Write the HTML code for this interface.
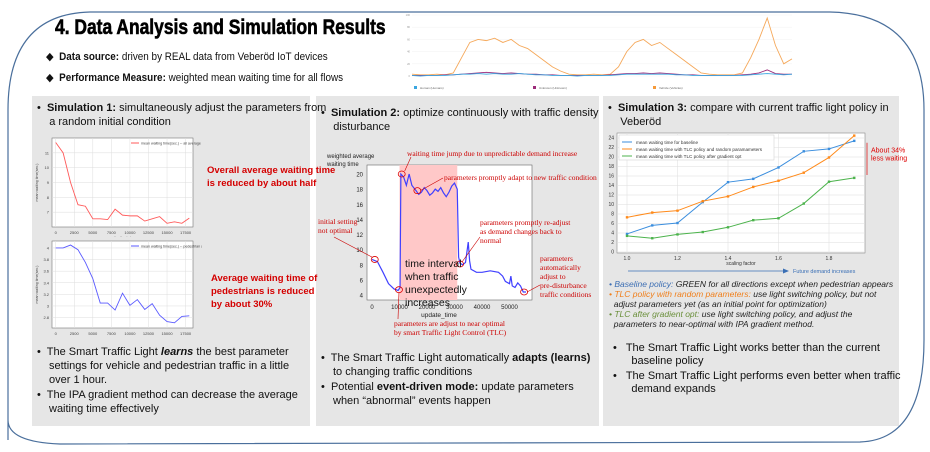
<!DOCTYPE html>
<html><head><meta charset="utf-8">
<style>
body{margin:0;width:930px;height:452px;background:#fff;font-family:"Liberation Sans",sans-serif;overflow:hidden;position:relative}
.a{position:absolute;white-space:nowrap}
.panel{position:absolute;background:#e6e6e6}
.t12{font-size:11px;color:#111;line-height:14px}
.red{color:#d40000;font-weight:bold;font-size:10px;line-height:13px}
</style></head><body>
<svg class="a" style="left:0;top:0" width="930" height="452">
<path d="M8,440 L8,110 Q8,14 90,12 L830,12 Q924,14 924,110 L924,340 Q924,440 860,442 L60,444 Q8,442 8,420 Z" fill="none" stroke="#4a6f9c" stroke-width="1.2"/>
</svg>
<div class="panel" style="left:32px;top:96px;width:278px;height:330px"></div>
<div class="panel" style="left:316px;top:96px;width:283px;height:330px"></div>
<div class="panel" style="left:603px;top:96px;width:296px;height:330px"></div>

<div class="a" style="left:55px;top:16px;font-size:21px;font-weight:bold;-webkit-text-stroke:0.6px #000;transform:scaleX(0.83);transform-origin:left">4. Data Analysis and Simulation Results</div>
<div class="a t12" style="left:46px;top:50px;font-size:11px;transform:scaleX(0.9);transform-origin:left">◆&nbsp; <b>Data source:</b> driven by REAL data from Veberöd IoT devices</div>
<div class="a t12" style="left:46px;top:71px;font-size:11px;transform:scaleX(0.9);transform-origin:left">◆&nbsp; <b>Performance Measure:</b> weighted mean waiting time for all flows</div>

<svg id="top" class="a" style="left:400px;top:12px" width="400" height="85"></svg>

<div class="a t12" style="left:37px;top:101px">•&nbsp; <b>Simulation 1:</b> simultaneously adjust the parameters from<br>&nbsp;&nbsp;&nbsp; a random initial condition</div>
<svg id="c1" class="a" style="left:32px;top:132px" width="170" height="105"></svg>
<svg id="c2" class="a" style="left:32px;top:236px" width="170" height="100"></svg>
<div class="a red" style="left:207px;top:164px;font-size:9.5px">Overall average waiting time<br>is reduced by about half</div>
<div class="a red" style="left:211px;top:272px;font-size:9.5px">Average waiting time of<br>pedestrians is reduced<br>by about 30%</div>
<div class="a t12" style="left:37px;top:345px;white-space:normal;width:270px">
<div style="padding-left:12px;text-indent:-12px">•&nbsp; The Smart Traffic Light <b><i>learns</i></b> the best parameter settings for vehicle and pedestrian traffic in a little over 1 hour.</div>
<div style="padding-left:12px;text-indent:-12px;margin-top:1px">•&nbsp; The IPA gradient method can decrease the average waiting time effectively</div></div>

<div class="a t12" style="left:321px;top:106px">•&nbsp; <b>Simulation 2:</b> optimize continuously with traffic density<br>&nbsp;&nbsp;&nbsp; disturbance</div>
<svg id="c3" class="a" style="left:316px;top:145px" width="283" height="200"></svg>
<div class="a t12" style="left:321px;top:351px;white-space:normal;width:276px">
<div style="padding-left:12px;text-indent:-12px">•&nbsp; The Smart Traffic Light automatically <b>adapts (learns)</b> to changing traffic conditions</div>
<div style="padding-left:12px;text-indent:-12px;margin-top:1px">•&nbsp; Potential <b>event-driven mode:</b> update parameters when “abnormal” events happen</div></div>

<div class="a t12" style="left:608px;top:101px">•&nbsp; <b>Simulation 3:</b> compare with current traffic light policy in<br>&nbsp;&nbsp;&nbsp; Veberöd</div>
<svg id="c4" class="a" style="left:603px;top:128px" width="322" height="150"></svg>
<div class="a" style="left:609px;top:279px;font-size:8.5px;line-height:10px;font-style:italic;color:#222">
<div><span style="color:#3d6fb4">• Baseline policy:</span> GREEN for all directions except when pedestrian appears</div>
<div><span style="color:#f07f1b">• TLC policy with random parameters:</span> use light switching policy, but not</div>
<div>&nbsp;&nbsp;adjust parameters yet (as an initial point for optimization)</div>
<div><span style="color:#6a8f3a">• TLC after gradient opt:</span> use light switching policy, and adjust the</div>
<div>&nbsp;&nbsp;parameters to near-optimal with IPA gradient method.</div></div>
<div class="a t12" style="left:613px;top:342px;line-height:13px">
<div>•&nbsp;&nbsp; The Smart Traffic Light works better than the current<br>&nbsp;&nbsp;&nbsp;&nbsp;&nbsp; baseline policy</div>
<div style="margin-top:2px">•&nbsp;&nbsp; The Smart Traffic Light performs even better when traffic<br>&nbsp;&nbsp;&nbsp;&nbsp;&nbsp; demand expands</div></div>

<script>
const NS="http://www.w3.org/2000/svg";
function mk(p,t,a){const e=document.createElementNS(NS,t);for(const k in a)e.setAttribute(k,a[k]);p.appendChild(e);return e;}
function txt(p,x,y,s,a){const e=mk(p,'text',Object.assign({x:x,y:y},a));e.textContent=s;return e;}

// ---- Sim 1 data ----
const sim1Steps=[0,1000,2000,3000,4000,5000,6000,7000,8000,9000,10000,11000,12000,13000,14000,15000,16000,17000,18000];
const sim1All=[11.7,11.0,9.0,7.5,7.4,6.55,6.55,6.5,7.2,6.8,6.75,6.75,6.4,6.55,6.7,6.25,6.35,6.25,6.6];
const sim1Ped=[4.0,4.0,4.05,3.97,3.75,3.47,3.05,3.05,2.93,3.22,3.01,3.11,2.94,3.04,2.84,2.73,2.71,2.82,2.83];
const sim1XTicks=[0,2500,5000,7500,10000,12500,15000,17500];
const sim1AllTicks=[7,8,9,10,11];
const sim1PedTicks=[2.8,3.0,3.2,3.4,3.6,3.8,4.0];

function smallChart(svg,name,xs,ys,yt,ymin,ymax,color,legend,box){
  const L=box.l,R=box.r,T=box.t,B=box.b;
  const X=v=>L+(v+500)/(19000)*(R-L), Y=v=>B-(v-ymin)/(ymax-ymin)*(B-T);
  mk(svg,'rect',{x:L,y:T,width:R-L,height:B-T,fill:'#fff',stroke:'#777','stroke-width':0.6});
  sim1XTicks.forEach(t=>{mk(svg,'line',{x1:X(t),x2:X(t),y1:T,y2:B,stroke:'#ddd','stroke-width':0.5});txt(svg,X(t),B+7,t,{'font-size':4,'text-anchor':'middle',fill:'#444'});});
  yt.forEach(t=>{mk(svg,'line',{x1:L,x2:R,y1:Y(t),y2:Y(t),stroke:'#ddd','stroke-width':0.5});txt(svg,L-3,Y(t)+1.5,t.toFixed(t%1?1:0),{'font-size':4,'text-anchor':'end',fill:'#444'});});
  const p=mk(svg,'polyline',{points:xs.map((x,i)=>X(x)+','+Y(ys[i])).join(' '),fill:'none',stroke:color,'stroke-width':0.9});
  
  
  mk(svg,'line',{x1:R-62,x2:R-54,y1:T+5,y2:T+5,stroke:color,'stroke-width':1});
  txt(svg,R-52,T+6.5,legend,{'font-size':3.6,fill:'#444'});
  txt(svg,(L+R)/2,B+12,'timeline(s.)',{'font-size':3.6,'text-anchor':'middle',fill:'#444'});
  txt(svg,L-14,(T+B)/2,'mean waiting time(sec.)',{'font-size':3.6,'text-anchor':'middle',fill:'#444',transform:`rotate(-90 ${L-14} ${(T+B)/2})`});
}
smallChart(document.getElementById('c1'),'all-average',sim1Steps,sim1All,sim1AllTicks,6.0,12.0,'#ff5a5a','mean waiting time(sec.) -- all average',{l:20,r:161,t:6,b:95});
smallChart(document.getElementById('c2'),'pedestrian',sim1Steps,sim1Ped,sim1PedTicks,2.62,4.12,'#5a5aff','mean waiting time(sec.) -- pedestrian average',{l:20,r:161,t:5,b:92});

// ---- Sim 2 data ----
const sim2Time=[0,2000,4000,6000,8000,9500,10200,10500,11500,12500,13500,14500,16000,17000,18000,19000,20000,21000,22000,23000,24000,25000,26000,27000,28000,29000,30000,31000,31500,32000,33000,34000,35000,35500,36000,38000,40000,43000,46000,47500,48500,50000,50500,51000,52000,53000,54000,55000,56000];
const sim2Wait=[8.7,8.4,7.0,5.5,4.8,4.6,5.0,20.0,19.6,18.5,20.0,18.5,17.8,17.3,17.6,18.2,17.8,17.2,17.5,18.0,17.7,18.2,17.5,17.0,17.6,18.4,18.8,18.0,9.0,8.2,8.0,8.3,11.0,8.5,7.4,7.0,7.0,7.2,7.0,6.5,5.8,5.5,6.5,5.2,5.0,5.6,5.2,4.4,4.4];
const sim2XTicks=[0,10000,20000,30000,40000,50000];
const sim2YTicks=[4,6,8,10,12,14,16,18,20];
const sim2Band=[10000,31000];
(function(){
  const s=document.getElementById('c3'); const L=51,R=216,T=20,B=155;
  const X=v=>L+5+(v)/50000*(137.5), Y=v=>B-5-(v-4)/16*(121);
  mk(s,'rect',{x:L,y:T,width:R-L,height:B-T,fill:'#fff',stroke:'#666','stroke-width':0.6});
  const b=mk(s,'rect',{x:X(sim2Band[0]),y:T,width:X(sim2Band[1])-X(sim2Band[0]),height:B-T,fill:'#ffc8c8'});
  
  
  sim2XTicks.forEach(t=>txt(s,X(t),B+9,t,{'font-size':6,'text-anchor':'middle',fill:'#222'}));
  sim2YTicks.forEach(t=>txt(s,L-4,Y(t)+2.5,t,{'font-size':6,'text-anchor':'end',fill:'#222'}));
  const p=mk(s,'polyline',{points:sim2Time.map((x,i)=>X(x)+','+Y(sim2Wait[i])).join(' '),fill:'none',stroke:'#4040ff','stroke-width':1.2});
  
  
  txt(s,11,13,'weighted average',{'font-size':6,fill:'#222'});txt(s,11,21,'waiting time',{'font-size':6,fill:'#222'});
  txt(s,123,172,'update_time',{'font-size':6.5,'text-anchor':'middle',fill:'#222'});
  const circ=[[1000,8.7],[9800,4.7],[10800,20],[16500,17.8],[32000,8.1],[55300,4.4]];
  circ.forEach(c=>mk(s,'ellipse',{cx:X(c[0]),cy:Y(c[1]),rx:3.5,ry:3,fill:'none',stroke:'#d00','stroke-width':0.8}));
  const red={fill:'#c00','font-size':7.5,'font-family':'Liberation Serif,serif'};
  txt(s,91,11,'waiting time jump due to unpredictable demand increase',red);
  txt(s,128,35,'parameters promptly adapt to new traffic condition',red);
  txt(s,2,79,'initial setting',red);txt(s,2,88,'not optimal',red);
  txt(s,164,80,'parameters promptly re-adjust',red);txt(s,164,89,'as demand changes back to',red);txt(s,164,98,'normal',red);
  ['parameters','automatically','adjust to','pre-disturbance','traffic conditions'].forEach((w,i)=>txt(s,224,116+i*9,w,red));
  ['time interval','when traffic','unexpectedly','increases'].forEach((w,i)=>txt(s,89,122+i*13,w,{fill:'#111','font-size':10.5}));
  txt(s,78,181,'parameters are adjust to near optimal',red);txt(s,78,190,'by smart Traffic Light Control (TLC)',red);
  const ln={stroke:'#c00','stroke-width':0.6};
  mk(s,'line',Object.assign({x1:X(10800)+3,y1:Y(20)-3,x2:95,y2:12},ln));
  mk(s,'line',Object.assign({x1:X(16500)+3,y1:Y(17.8),x2:127,y2:33},ln));
  mk(s,'line',Object.assign({x1:X(1000)-2,y1:Y(8.7)-2,x2:18,y2:92},ln));
  mk(s,'line',Object.assign({x1:X(32000)+2,y1:Y(8.1)-2,x2:164,y2:92},ln));
  mk(s,'line',Object.assign({x1:X(55300)+3,y1:Y(4.4),x2:224,y2:140},ln));
  mk(s,'line',Object.assign({x1:X(9800),y1:Y(4.7)+3,x2:82,y2:174},ln));
})();

// ---- Sim 3 data ----
const sim3Scale=[1.0,1.1,1.2,1.3,1.4,1.5,1.6,1.7,1.8,1.9];
const sim3Baseline=[3.8,5.6,6.1,10.5,14.7,15.4,17.8,21.2,21.7,23.4];
const sim3Random=[7.3,8.3,8.7,10.7,11.7,13.7,15.0,16.7,19.9,24.5];
const sim3Gradient=[3.4,2.9,3.7,4.2,5.2,6.7,7.1,10.2,14.8,15.6];
const sim3XTicks=[1.0,1.2,1.4,1.6,1.8];
const sim3YTicks=[0,2,4,6,8,10,12,14,16,18,20,22,24];
(function(){
  const s=document.getElementById('c4');const L=14,R=262,T=5,B=125;
  const X=v=>24+(v-1.0)/0.8*(202), Y=v=>B-1-v/24*(114);
  mk(s,'rect',{x:L,y:T,width:R-L,height:B-T,fill:'#fff',stroke:'#888','stroke-width':0.6});
  sim3XTicks.forEach(t=>{mk(s,'line',{x1:X(t),x2:X(t),y1:T,y2:B,stroke:'#ddd','stroke-width':0.5});txt(s,X(t),B+7,t.toFixed(1),{'font-size':5,'text-anchor':'middle',fill:'#333'});});
  sim3YTicks.forEach(t=>{mk(s,'line',{x1:L,x2:R,y1:Y(t),y2:Y(t),stroke:'#ddd','stroke-width':0.5});txt(s,L-3,Y(t)+1.7,t,{'font-size':5,'text-anchor':'end',fill:'#333'});});
  [[sim3Baseline,'#3b8ede','baseline'],[sim3Random,'#ff8a1a','random-params'],[sim3Gradient,'#4cb34c','gradient-opt']].forEach(d=>{
    const p=mk(s,'polyline',{points:sim3Scale.map((x,i)=>X(x)+','+Y(d[0][i])).join(' '),fill:'none',stroke:d[1],'stroke-width':1});
    
    
    sim3Scale.forEach((x,i)=>mk(s,'rect',{x:X(x)-1.2,y:Y(d[0][i])-1.2,width:2.4,height:2.4,fill:d[1]}));
  });
  mk(s,'rect',{x:L+2,y:T+2,width:155,height:25,fill:'#fff',stroke:'#ccc','stroke-width':0.5});
  [['mean waiting time for baseline','#3b8ede'],['mean waiting time with TLC policy and random paramameters','#ff8a1a'],['mean waiting time with TLC policy after gradient opt','#4cb34c']].forEach((l,i)=>{
    mk(s,'line',{x1:L+5,x2:L+15,y1:T+9+i*7,y2:T+9+i*7,stroke:l[1],'stroke-width':1});
    txt(s,L+19,T+11+i*7,l[0],{'font-size':4.6,fill:'#333'});
  });
  txt(s,138,B+12,'scaling factor',{'font-size':5,'text-anchor':'middle',fill:'#333'});
  mk(s,'line',{x1:25,x2:183,y1:143,y2:143,stroke:'#3a6fb5','stroke-width':0.8});
  mk(s,'path',{d:'M186,143 L180,140.5 L180,145.5 Z',fill:'#3a6fb5'});
  txt(s,190,145,'Future demand increases',{'font-size':5.5,fill:'#3a6fb5'});
  mk(s,'line',{x1:262+2,x2:262+2,y1:Y(23),y2:Y(16.2),stroke:'#d00','stroke-width':0.7});
  txt(s,268,Y(21),'About 34%',{'font-size':7,fill:'#d00'});txt(s,268,Y(19.3),'less waiting',{'font-size':7,fill:'#d00'});
})();

// ---- Top IoT chart ----
const iotVehicle=[3,2,2,3,2,5,30,55,60,58,62,55,60,50,45,35,25,15,8,3,2,2,3,2,3,15,40,55,60,50,55,45,35,25,15,5,3,2,2,2,5,30,60,95,50,20,28];
const iotUnknown=[1,1,1,1,2,2,3,4,5,6,5,4,5,4,3,3,2,2,1,1,1,1,1,1,2,3,4,4,5,4,5,4,3,2,2,1,1,1,1,1,2,3,5,10,4,3,3];
const iotHuman=[1,0,1,1,1,2,3,3,4,3,4,3,3,4,3,2,2,1,1,1,0,1,1,1,1,2,3,3,3,3,3,3,2,2,1,1,1,1,1,1,1,2,3,4,3,2,3];
const iotYTicks=[0,20,40,60,80,100];
(function(){
  const s=document.getElementById('top');const L=12,R=392,T=3,B=64;
  const X=i=>L+i/(iotVehicle.length-1)*(R-L), Y=v=>B-v/100*(B-T);
  iotYTicks.forEach(t=>{mk(s,'line',{x1:L,x2:R,y1:Y(t),y2:Y(t),stroke:'#eee','stroke-width':0.4});txt(s,L-2,Y(t)+1,t,{'font-size':2.6,'text-anchor':'end',fill:'#999'});});
  [[iotVehicle,'#f5a85a','vehicle'],[iotUnknown,'#9c2b7a','unknown'],[iotHuman,'#3aa6e0','human']].forEach(d=>{
    const p=mk(s,'polyline',{points:d[0].map((v,i)=>X(i)+','+Y(v)).join(' '),fill:'none',stroke:d[1],'stroke-width':0.9});
    
    
  });
  [['Human (Humans)','#3aa6e0',14],['Unknown (Unknown)','#9c2b7a',133],['Vehicle (Vehicles)','#f59a3a',253]].forEach(l=>{
    mk(s,'rect',{x:l[2],y:74,width:3,height:3,fill:l[1]});
    txt(s,l[2]+6,77,l[0],{'font-size':3,fill:'#666'});
  });
})();
</script>
</body></html>
